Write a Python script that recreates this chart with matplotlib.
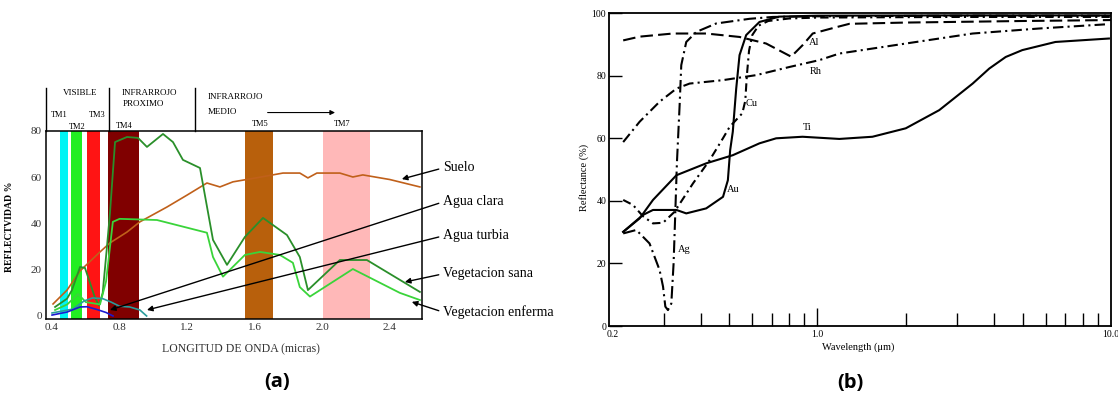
import matplotlib
matplotlib.use('Agg')
import matplotlib.pyplot as plt

plt.rcParams['font.family'] = ['Liberation Serif', 'DejaVu Serif']

# ---------- (a) firmas espectrales ----------
bandas = ['TM1', 'TM2', 'TM3', 'TM4', 'TM5', 'TM7']
banda_ini = [0.447, 0.512, 0.607, 0.731, 1.542, 2.004]
banda_fin = [0.495, 0.578, 0.684, 0.915, 1.708, 2.282]

suelo_x = [0.406, 0.489, 0.566, 0.684, 0.743, 0.844, 0.92, 1.08, 1.2, 1.317, 1.394,
           1.471, 1.607, 1.767, 1.867, 1.915, 1.968, 2.104, 2.181, 2.24, 2.40, 2.578]
suelo_y = [5.2, 11.2, 19.5, 27.7, 31.6, 36.3, 40.7, 47.1, 52.3, 57.5, 55.8,
           58.0, 59.7, 61.8, 61.8, 59.7, 61.8, 61.8, 60.1, 61.0, 59.0, 55.8]

sana_x = [0.418, 0.489, 0.518, 0.566, 0.595, 0.654, 0.678, 0.70, 0.725, 0.743, 0.773,
          0.844, 0.909, 0.962, 1.057, 1.116, 1.175, 1.276, 1.353, 1.436, 1.542,
          1.649, 1.791, 1.867, 1.915, 2.104, 2.264, 2.578]
sana_y = [3.9, 7.5, 11.2, 21.2, 20.8, 8.0, 4.5, 10.0, 29.8, 44.5, 75.2,
          77.4, 77.0, 73.1, 78.7, 75.2, 67.5, 64.0, 32.9, 22.1, 34.2,
          42.4, 35.0, 25.5, 11.2, 24.2, 24.2, 10.4]

enferma_x = [0.418, 0.49, 0.554, 0.60, 0.684, 0.72, 0.76, 0.80, 1.021, 1.317, 1.353,
             1.412, 1.542, 1.631, 1.749, 1.826, 1.867, 1.927, 2.181, 2.459, 2.578]
enferma_y = [2.6, 5.0, 9.5, 6.0, 5.0, 15.0, 40.7, 42.0, 41.5, 36.0, 25.5,
             17.0, 26.4, 27.7, 26.4, 23.0, 12.5, 8.4, 20.3, 10.0, 6.9]

turbia_x = [0.40, 0.524, 0.59, 0.64, 0.70, 0.75, 0.80, 0.86, 0.92, 0.96]
turbia_y = [1.3, 3.0, 6.5, 7.8, 7.5, 6.0, 4.2, 3.9, 2.6, 0.0]

clara_x = [0.40, 0.489, 0.566, 0.607, 0.666, 0.72, 0.761]
clara_y = [0.4, 1.7, 3.9, 4.0, 2.8, 1.5, 0.0]

etiquetas_a = ['Suelo', 'Agua clara', 'Agua turbia', 'Vegetacion sana', 'Vegetacion enferma']

# ---------- (b) reflectancia de metales ----------
al_x = [0.218, 0.248, 0.322, 0.418, 0.543, 0.669, 0.814, 0.891, 0.964, 1.157, 1.285, 2.0, 5.0, 10.0]
al_y = [91.3, 92.5, 93.5, 93.5, 92.4, 90.3, 86.1, 89.8, 93.5, 95.5, 96.6, 97.0, 97.5, 97.8]

ag_x = [0.218, 0.2416, 0.268, 0.290, 0.298, 0.3034, 0.3097, 0.318, 0.3237, 0.328, 0.3322,
        0.3394, 0.3438, 0.3575, 0.3867, 0.4519, 0.587, 0.705, 1.0, 3.0, 10.0]
ag_y = [29.6, 30.7, 26.4, 17.9, 12.6, 6.2, 5.1, 7.2, 20.0, 36.0, 52.0,
        70.6, 83.4, 90.8, 94.0, 96.7, 98.2, 98.8, 99.0, 99.2, 99.2]

au_x = [0.218, 0.2545, 0.2754, 0.331, 0.3575, 0.418, 0.477, 0.4955, 0.5045, 0.515,
        0.529, 0.543, 0.572, 0.635, 0.742, 1.0, 3.0, 10.0]
au_y = [30.1, 35.5, 37.1, 37.1, 36.0, 37.6, 41.3, 46.6, 56.2, 62.1,
        75.9, 86.6, 93.0, 97.2, 98.9, 99.2, 99.3, 99.3]

cu_x = [0.218, 0.2354, 0.2545, 0.2754, 0.298, 0.326, 0.377, 0.4294, 0.4767, 0.502,
        0.53, 0.555, 0.568, 0.575, 0.585, 0.60, 0.63, 0.68, 0.8, 1.0, 3.0, 10.0]
cu_y = [40.3, 38.7, 35.1, 32.8, 33.0, 36.5, 45.6, 53.0, 60.0, 63.6,
        66.0, 68.0, 72.0, 80.0, 88.0, 93.0, 96.0, 97.5, 98.3, 98.6, 98.8, 98.8]

rh_x = [0.218, 0.248, 0.290, 0.331, 0.367, 0.477, 0.619, 0.803, 1.016, 1.188, 2.0, 3.38, 5.69, 9.84]
rh_y = [58.8, 65.3, 71.7, 75.9, 77.5, 78.6, 80.2, 82.8, 85.0, 87.1, 90.3, 93.5, 95.1, 96.5]

ti_x = [0.218, 0.248, 0.2754, 0.331, 0.418, 0.515, 0.635, 0.7235, 0.89, 1.188, 1.54,
        2.0, 2.6, 3.38, 3.85, 4.38, 4.99, 6.47, 9.84]
ti_y = [30.1, 34.4, 40.3, 48.2, 52.0, 54.6, 58.4, 60.0, 60.5, 59.8, 60.5,
        63.2, 69.0, 77.5, 82.3, 86.0, 88.2, 90.8, 91.9]

metales = ['Al', 'Rh', 'Cu', 'Ti', 'Au', 'Ag']

fig = plt.figure(figsize=(11.18, 3.97), dpi=100)

# ===== panel (a) =====
ax1 = fig.add_axes([0.0411, 0.1965, 0.3363, 0.4736])
ax1.set_xlim(0.364, 2.59)
ax1.set_ylim(-1.3, 80)

colores_banda = ['#00f4f4', '#22ee22', '#ff1414', '#800000', '#b8600c', '#ffb8b8']
for ini, fin, c in zip(banda_ini, banda_fin, colores_banda):
    ax1.axvspan(ini, fin, color=c, lw=0, zorder=0)

ax1.plot(suelo_x, suelo_y, color='#c0601a', lw=1.2, zorder=3)
ax1.plot(sana_x, sana_y, color='#2a8f2a', lw=1.3, zorder=3)
ax1.plot(enferma_x, enferma_y, color='#3ad43a', lw=1.3, zorder=3)
ax1.plot(turbia_x, turbia_y, color='#2a9c9c', lw=1.2, zorder=3)
ax1.plot(clara_x, clara_y, color='#1a1ad0', lw=1.2, zorder=3)

ax1.set_xticks([0.4, 0.8, 1.2, 1.6, 2.0, 2.4])
ax1.set_xticklabels(['0.4', '0.8', '1.2', '1.6', '2.0', '2.4'])
ax1.set_yticks([0, 20, 40, 60, 80])
ax1.tick_params(length=0, labelsize=8, pad=3, labelcolor='#333333')
for s in ax1.spines.values():
    s.set_linewidth(1.1)

ax1.set_ylabel('REFLECTVIDAD %', fontsize=7, fontweight='bold')
ax1.yaxis.set_label_coords(-0.085, 0.489)
ax1.set_xlabel('LONGITUD DE ONDA (micras)', fontsize=8.5, color='#333333')
ax1.xaxis.set_label_coords(0.519, -0.128)

# cabecera de regiones
tr = ax1.get_xaxis_transform()
for xv in [0.364, 0.737, 1.246]:
    ax1.plot([xv, xv], [1.0, 1.229], color='k', lw=1.0, transform=tr, clip_on=False)
ax1.text(0.566, 1.20, 'VISIBLE', transform=tr, fontsize=6.5, ha='center', va='center')
ax1.text(0.814, 1.20, 'INFRARROJO', transform=tr, fontsize=6.5, ha='left', va='center')
ax1.text(0.82, 1.143, 'PROXIMO', transform=tr, fontsize=6.5, ha='left', va='center')
ax1.text(1.323, 1.18, 'INFRARROJO', transform=tr, fontsize=6.5, ha='left', va='center')
ax1.text(1.323, 1.10, 'MEDIO', transform=tr, fontsize=6.5, ha='left', va='center')
ax1.annotate('', xy=(2.092, 1.098), xytext=(1.66, 1.098), xycoords=tr, textcoords=tr,
             arrowprops=dict(arrowstyle='-|>', lw=0.8, color='k', mutation_scale=7),
             annotation_clip=False)
tm_pos = [(0.441, 1.085), (0.548, 1.021), (0.666, 1.085), (0.826, 1.027), (1.63, 1.037), (2.12, 1.037)]
for nombre, (xv, yv) in zip(bandas, tm_pos):
    ax1.text(xv, yv, nombre, transform=tr, fontsize=6, ha='center', va='center')

# etiquetas con flechas
texto_y = [64.0, 49.3, 34.6, 18.2, 1.7]
punta = [(2.471, 59.2), (0.743, 2.6), (0.962, 2.6), (2.489, 14.7), (2.53, 6.1)]
for et, ty, (px, py) in zip(etiquetas_a, texto_y, punta):
    ax1.annotate(et, xy=(px, py), xytext=(2.714, ty), fontsize=10, ha='left', va='center',
                 arrowprops=dict(arrowstyle='-|>', lw=1.0, color='k', mutation_scale=8,
                                 relpos=(0, 0.5), shrinkA=1, shrinkB=0),
                 annotation_clip=False)

# ===== panel (b) =====
ax2 = fig.add_axes([0.5447, 0.1788, 0.449, 0.788])
ax2.set_xscale('log')
ax2.set_xlim(0.195, 10.0)
ax2.set_ylim(0, 100)

ax2.plot(al_x, al_y, color='k', lw=1.5, linestyle=(0, (6, 2.5)))
ax2.plot(ag_x, ag_y, color='k', lw=1.5, linestyle=(0, (6, 2, 1, 2)))
ax2.plot(au_x, au_y, color='k', lw=1.5)
ax2.plot(cu_x, cu_y, color='k', lw=1.5, linestyle=(0, (4, 2, 1, 2)))
ax2.plot(rh_x, rh_y, color='k', lw=1.5, linestyle=(0, (5, 2, 1, 2)))
ax2.plot(ti_x, ti_y, color='k', lw=1.5)

pos_metal = [(0.939, 90.7), (0.939, 81.2), (0.569, 71.2), (0.889, 63.4), (0.49, 43.5), (0.334, 24.5)]
for m, (xv, yv) in zip(metales, pos_metal):
    ax2.text(xv, yv, m, fontsize=7.5, ha='left', va='center')

ax2.set_xticks([0.2, 1.0, 10.0])
ax2.set_xticklabels(['0.2', '1.0', '10.0'])
ax2.set_xticks([0.3, 0.4, 0.5, 0.6, 0.7, 0.8, 0.9, 2, 3, 4, 5, 6, 7, 8, 9], minor=True)
ax2.xaxis.set_minor_formatter(plt.NullFormatter())
ax2.set_yticks([0, 20, 40, 60, 80, 100])
ax2.tick_params(which='major', direction='in', length=13, width=1, labelsize=7, pad=3)
ax2.tick_params(which='minor', direction='in', length=9.5, width=1)
ax2.tick_params(axis='y', which='major', length=9.5, pad=2)
xt = ax2.xaxis.get_major_ticks()
xt[0].tick1line.set_visible(False)
xt[-1].tick1line.set_visible(False)
for s in ax2.spines.values():
    s.set_linewidth(1.3)

ax2.set_ylabel('Reflectance (%)', fontsize=7.5)
ax2.yaxis.set_label_coords(-0.040, 0.476)
ax2.set_xlabel('Wavelength (\u03bcm)', fontsize=7.5)
ax2.xaxis.set_label_coords(0.496, -0.051)

fig.text(0.2478, 0.0378, '(a)', fontsize=14.5, fontweight='bold', ha='center', va='center',
         family=['Open Sans', 'DejaVu Sans'])
fig.text(0.7603, 0.0353, '(b)', fontsize=14.5, fontweight='bold', ha='center', va='center',
         family=['Open Sans', 'DejaVu Sans'])

fig.savefig('out.png', dpi=100)
